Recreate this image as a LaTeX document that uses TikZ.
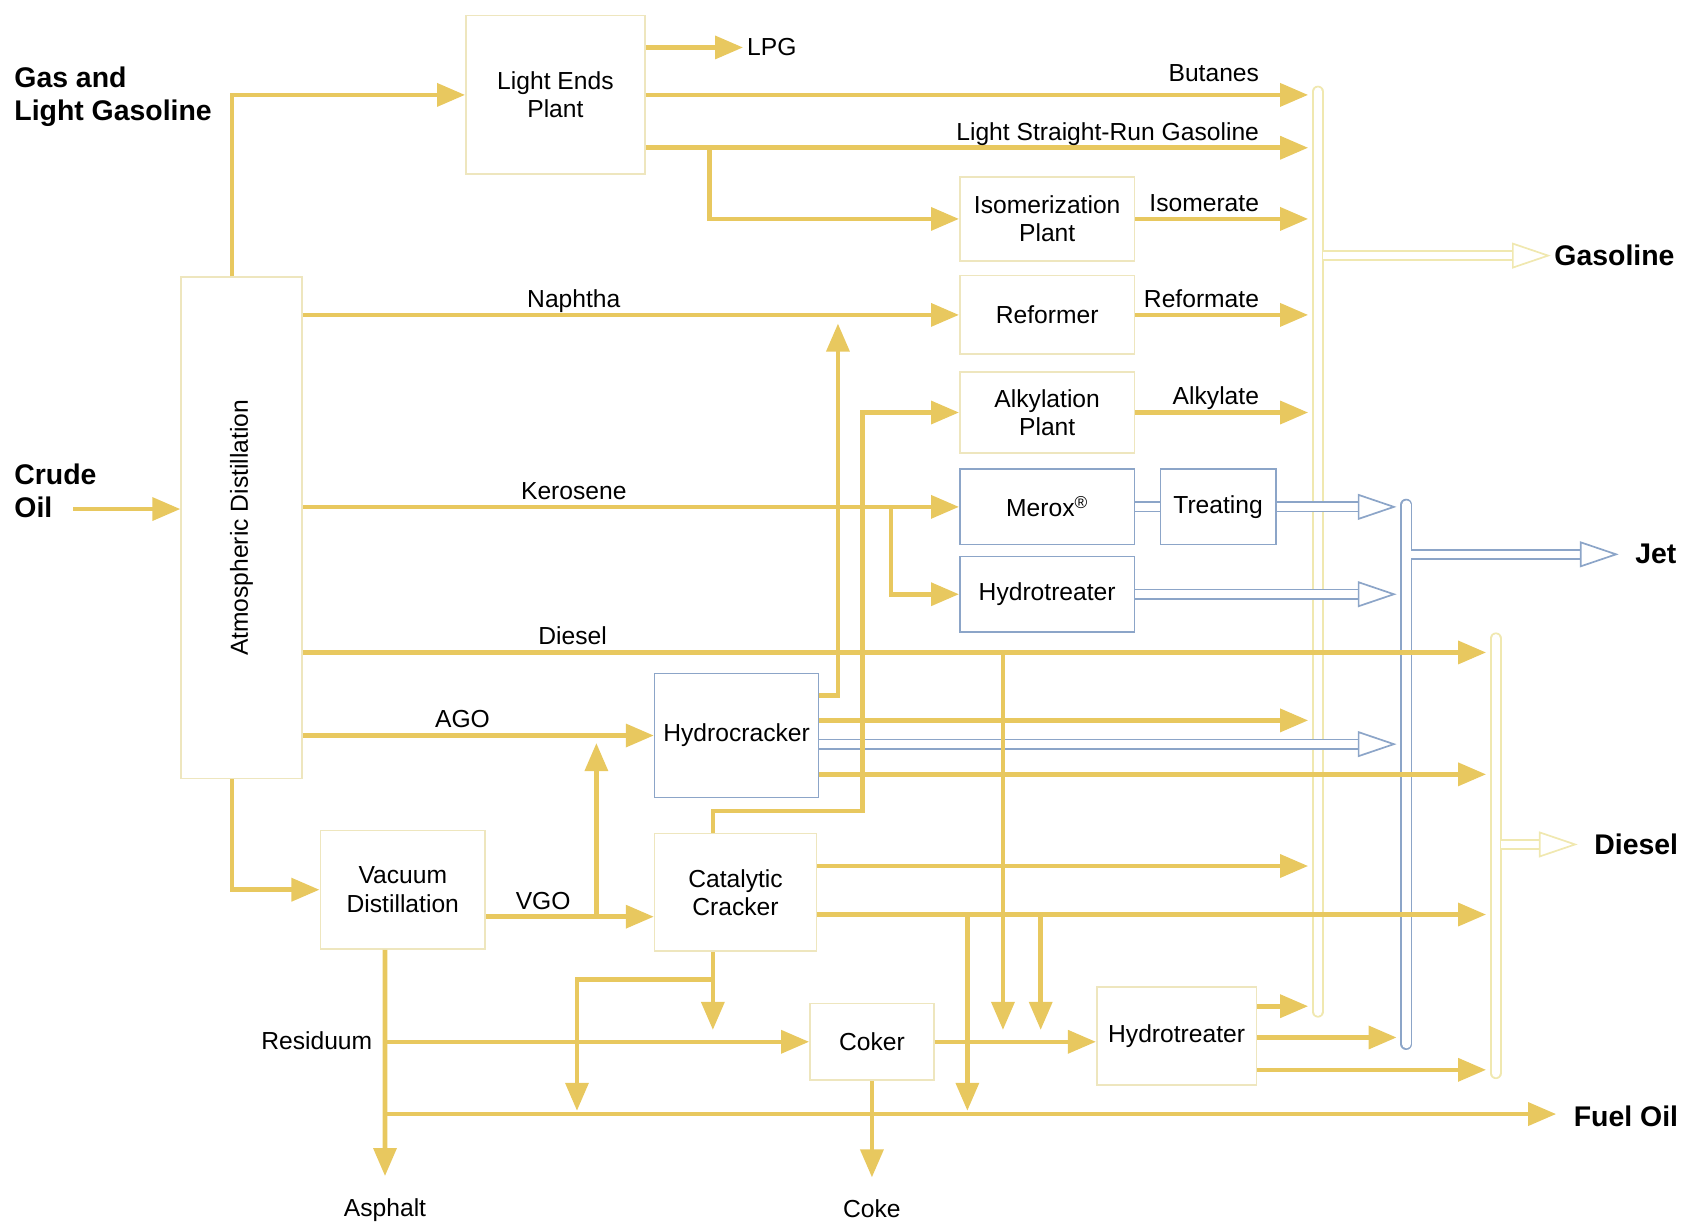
\documentclass[tikz,border=0pt]{standalone}
\usepackage{fontspec}
\setmainfont{Liberation Sans}
\usetikzlibrary{arrows.meta}
\definecolor{flowyel}{RGB}{232,200,95}
\definecolor{paleyel}{RGB}{240,232,176}
\definecolor{boxyel}{RGB}{238,230,190}
\definecolor{jetblue}{RGB}{140,165,200}
\newcommand\lblfont{\fontsize{13}{15}\selectfont}
\newcommand\outfont{\fontsize{15}{17.5}\selectfont\bfseries}
\begin{document}
\begin{tikzpicture}[
    x=0.02cm, y=-0.02cm,
    unit/.style={draw=boxyel, line width=0.85pt, fill=white, font=\lblfont, align=center, inner sep=1pt},
    blueunit/.style={unit, draw=jetblue},
    lbl/.style={font=\lblfont, inner sep=0.07cm},
    outlbl/.style={font=\outfont, inner sep=0.06cm, align=left},
    onflow/.style={lbl, anchor=base, yshift=0.14cm},
    flow/.style={draw=flowyel, line width=0.085cm, -{Triangle[length=0.52cm,width=0.42cm]}},
    jetpipe/.style={draw=jetblue, line width=0.9pt, double=white, double distance=0.14cm},
    jetflow/.style={jetpipe, -{Triangle[open,line width=0.9pt,length=0.72cm,width=0.48cm]}},
    gasflow/.style={jetflow, draw=paleyel},
    bus/.style={draw=paleyel, line width=0.9pt, double=white, double distance=0.16cm, line cap=round},
    jetbus/.style={bus, draw=jetblue},
  ]
    \useasboundingbox (0,0) rectangle (1568,1137);
    % product headers, collecting lines
    \coordinate (gtop) at (1222,85);  \coordinate (gbot) at (1222,938);
    \coordinate (jtop) at (1304,468); \coordinate (jbot) at (1304,968);
    \coordinate (dtop) at (1387,592); \coordinate (dbot) at (1387,995);
    \coordinate (gin) at (1213,0);
    \coordinate (jin) at (1295,0);
    \coordinate (din) at (1378,0);
    \draw[bus] (gtop) -- (gbot);
    \draw[jetbus] (jtop) -- (jbot);
    \draw[bus] (dtop) -- (dbot);
    % side labels
    \node[outlbl, anchor=west] (gaslg) at (10,90) {Gas and\\Light Gasoline};
    \node[outlbl, anchor=west] (crude) at (10,455) {Crude\\Oil};
    \node[outlbl, anchor=west] (gasl) at (1438,237) {Gasoline};
    \node[outlbl, anchor=west] (jetl) at (1513,514) {Jet};
    \node[outlbl, anchor=west] (diesl) at (1475,783) {Diesel};
    \node[outlbl, anchor=west] (fuel) at (1456,1035) {Fuel Oil};
    \node[lbl, anchor=west] (lpg) at (689,44) {LPG};
    \node[lbl] (asph) at (357,1122) {Asphalt};
    \node[lbl] (coke) at (808.5,1121) {Coke};
    \node[lbl, anchor=east] (resid) at (349,965) {Residuum};
    % process units
    \node[unit, minimum width=2.24cm, minimum height=9.3cm,
          label={[font=\lblfont, rotate=90]center:Atmospheric Distillation}] (atm) at (224,489.5) {};
    \node[unit, minimum width=3.32cm, minimum height=2.94cm] (lep) at (515,88) {Light Ends\\Plant};
    \node[unit, minimum width=3.24cm, minimum height=1.56cm] (iso) at (971,203) {Isomerization\\Plant};
    \node[unit, minimum width=3.24cm, minimum height=1.46cm] (ref) at (971,292) {Reformer};
    \node[unit, minimum width=3.24cm, minimum height=1.5cm] (alk) at (971,382.5) {Alkylation\\Plant};
    \node[blueunit, minimum width=3.24cm, minimum height=1.4cm] (mer) at (971,470) {Merox\textsuperscript{®}};
    \node[blueunit, minimum width=2.14cm, minimum height=1.4cm] (tre) at (1129.5,470) {Treating};
    \node[blueunit, minimum width=3.24cm, minimum height=1.4cm] (ht1) at (971,551) {Hydrotreater};
    \node[blueunit, minimum width=3.04cm, minimum height=2.3cm] (hc) at (683,682) {Hydrocracker};
    \node[unit, minimum width=3.06cm, minimum height=2.2cm] (vac) at (373.5,825) {Vacuum\\Distillation};
    \node[unit, minimum width=3.0cm, minimum height=2.18cm] (cat) at (682,827.5) {Catalytic\\Cracker};
    \node[unit, minimum width=2.3cm, minimum height=1.42cm] (cok) at (808.5,966) {Coker};
    \node[unit, minimum width=2.96cm, minimum height=1.82cm] (ht2) at (1091,960.5) {Hydrotreater};
    % split and bend points
    \coordinate (crudein) at (68,472);
    \coordinate (lsrsplit) at (658,137);
    \coordinate (kersplit) at (826,470);
    \coordinate (dsplit) at (930,605);
    \coordinate (hcup) at (777,293);
    \coordinate (catturn) at (800,752);
    \coordinate (vgosplit) at (553,850);
    \coordinate (catsplit) at (661,908);
    \coordinate (catfuel) at (535,1033);
    \coordinate (cds1) at (897,848);
    \coordinate (cds2) at (965,848);
    \coordinate (vacres) at (357,966);
    \coordinate (vacfuel) at (357,1033);
    % crude and light ends
    \draw[flow] (crudein) -- (atm.west |- crudein);
    \draw[flow] ([xshift=-0.18cm]atm.north) |- (lep.west);
    \draw[flow] ([xshift=-0.18cm]atm.south) |- (vac.west);
    \draw[flow] (lep.east |- lpg.west) -- (lpg.west);
    \draw[flow] (lep.east) -- (gin |- lep.east)
      node[onflow, pos=1, anchor=base east, xshift=-0.8cm, yshift=0.1cm] {Butanes};
    \draw[flow] (lep.east |- lsrsplit) -- (gin |- lsrsplit)
      node[onflow, pos=1, anchor=base east, xshift=-0.8cm] {Light Straight-Run Gasoline};
    \draw[flow] (lsrsplit) |- (iso.west);
    % gasoline blend stocks
    \draw[flow] (iso.east) -- (gin |- iso.east)
      node[onflow, pos=1, anchor=base east, xshift=-0.8cm] {Isomerate};
    \draw[flow] (ref.east) -- (gin |- ref.east)
      node[onflow, pos=1, anchor=base east, xshift=-0.8cm] {Reformate};
    \draw[flow] (alk.east) -- (gin |- alk.east)
      node[onflow, pos=1, anchor=base east, xshift=-0.8cm] {Alkylate};
    % atmospheric cuts
    \draw[flow] (atm.east |- ref.west) -- (ref.west) node[onflow, pos=0.413] {Naphtha};
    \draw[flow] (atm.east |- mer.west) -- (mer.west) node[onflow, pos=0.413] {Kerosene};
    \draw[flow] (kersplit) |- (ht1.west);
    \draw[flow] (atm.east |- dsplit) -- (din |- dsplit) node[onflow, pos=0.228] {Diesel};
    \draw[flow] (atm.east |- hc.west) -- (hc.west) node[onflow, pos=0.455] {AGO};
    \draw[flow] (vac.east |- vgosplit) -- (cat.west |- vgosplit) node[onflow, pos=0.34] {VGO};
    \draw[flow, shorten >=0.14cm] (vgosplit) -- (vgosplit |- hc.west);
    % hydrocracker
    \draw[flow, shorten >=0.14cm] (hc.east |- 0,645) -| (hcup);
    \draw[flow] (hc.east |- 0,668) -- (gin |- 0,668);
    \draw[jetflow] (hc.east |- 0,690) -- (jin |- 0,690);
    \draw[flow] (hc.east |- 0,718) -- (din |- 0,718);
    % catalytic cracker
    \draw[flow] ([xshift=-0.42cm]cat.north) |- (catturn) |- (alk.west);
    \draw[flow] (cat.east |- 0,803) -- (gin |- 0,803);
    \draw[flow] (cat.east |- cds1) -- (din |- cds1);
    \draw[flow, shorten >=0.22cm] ([xshift=-0.42cm]cat.south) -- ([xshift=-0.42cm]cat.south |- cok.west);
    \draw[flow, shorten >=0.06cm] (catsplit) -| (catfuel);
    \draw[flow, shorten >=0.06cm] (cds1) -- (cds1 |- vacfuel);
    \draw[flow, shorten >=0.22cm] (cds2) -- (cds2 |- cok.east);
    \draw[flow, shorten >=0.22cm] (dsplit) -- (dsplit |- cok.east);
    % residue
    \draw[flow, shorten >=0.34cm] ([xshift=-0.33cm]vac.south) -- (asph.north);
    \draw[flow] (vacres) -- (cok.west);
    \draw[flow, shorten >=0.26cm] (vacfuel) -- (fuel.west |- vacfuel);
    \draw[flow, shorten >=0.34cm] (cok.south) -- (coke.north);
    \draw[flow] (cok.east) -- (ht2.west |- cok.east);
    \draw[flow] (ht2.east |- 0,933) -- (gin |- 0,933);
    \draw[flow] (ht2.east |- 0,962) -- (jin |- 0,962);
    \draw[flow] (ht2.east |- 0,992) -- (din |- 0,992);
    % jet fuel
    \draw[jetpipe] (mer.east) -- (tre.west);
    \draw[jetflow] (tre.east) -- (jin |- tre.east);
    \draw[jetflow] (ht1.east) -- (jin |- ht1.east);
    % products
    \draw[gasflow] ([xshift=0.09cm]gtop |- gasl.west) -- (gasl.west);
    \draw[jetflow, shorten >=0.24cm] ([xshift=0.09cm]jtop |- jetl.west) -- (jetl.west);
    \draw[gasflow, shorten >=0.24cm] ([xshift=0.09cm]dtop |- diesl.west) -- (diesl.west);
  \end{tikzpicture}
\end{document}
